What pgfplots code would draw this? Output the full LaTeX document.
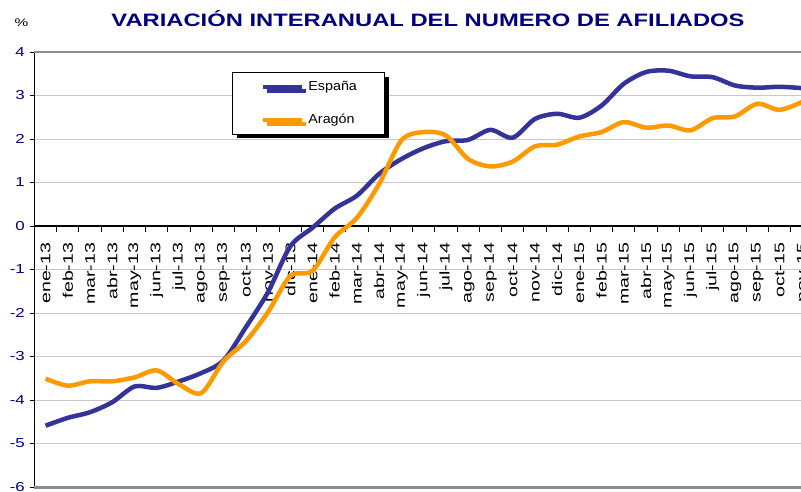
\documentclass[border=0pt]{standalone}
\usepackage{pgfplots}
\pgfplotsset{compat=1.18}
\usepackage{fontspec}
\setmainfont{Liberation Sans}
\newfontfamily\titlefont{Liberation Sans}[FakeStretch=1.32]
\newfontfamily\labfont{Liberation Sans}[FakeStretch=1.4]
\newfontfamily\ylabfont{Liberation Sans}[FakeStretch=1.3]
\newfontfamily\legfont{Liberation Sans}[FakeStretch=1.1]
\usetikzlibrary{shadows}
\definecolor{espana}{HTML}{333399}
\definecolor{aragon}{HTML}{FF9900}
\definecolor{navy}{HTML}{000080}
\definecolor{gridc}{HTML}{C8C8C8}
\definecolor{framec}{HTML}{8C8C8C}

\pgfplotstableread{
i esp ara
0 -4.59 -3.51
1 -4.41 -3.67
2 -4.28 -3.57
3 -4.05 -3.57
4 -3.69 -3.48
5 -3.72 -3.32
6 -3.57 -3.64
7 -3.38 -3.84
8 -3.09 -3.11
9 -2.33 -2.65
10 -1.52 -1.98
11 -0.47 -1.15
12 -0.04 -1.03
13 0.40 -0.26
14 0.70 0.19
15 1.20 0.97
16 1.54 1.97
17 1.79 2.16
18 1.95 2.08
19 1.98 1.54
20 2.21 1.37
21 2.03 1.48
22 2.46 1.83
23 2.58 1.87
24 2.49 2.06
25 2.77 2.16
26 3.27 2.39
27 3.54 2.26
28 3.57 2.31
29 3.44 2.20
30 3.42 2.48
31 3.23 2.52
32 3.18 2.81
33 3.20 2.67
34 3.17 2.85
}\datatable

\begin{document}
\begin{tikzpicture}
\begin{axis}[
  set layers,
  scale only axis,
  width=778.4pt, height=435pt,
  at={(0pt,0pt)}, anchor=south west,
  xmin=-0.5, xmax=34.5, ymin=-6, ymax=4,
  clip=false,
  axis x line=middle, axis y line=left,
  axis line style={-, line width=1.5pt, black},
  xtick={0,...,34},
  xticklabels={ene-13,feb-13,mar-13,abr-13,may-13,jun-13,jul-13,ago-13,sep-13,oct-13,nov-13,dic-13,ene-14,feb-14,mar-14,abr-14,may-14,jun-14,jul-14,ago-14,sep-14,oct-14,nov-14,dic-14,ene-15,feb-15,mar-15,abr-15,may-15,jun-15,jul-15,ago-15,sep-15,oct-15,nov-15},
  major x tick style={draw=none},
  minor xtick={-0.5,0.5,...,34.5},
  minor x tick style={black, line width=1pt},
  minor tick length=6pt,
  xtick align=outside,
  ytick={-6,...,4},
  ymajorgrids,
  grid style={gridc, line width=1pt},
  major tick length=4.5pt,
  ytick align=outside,
  y tick style={black, line width=1pt},
  xticklabel style={font=\fontsize{14}{14}\selectfont\labfont, rotate=90, anchor=east, inner sep=0pt},
  xticklabel shift=12pt,
  yticklabel style={font=\fontsize{13}{13}\selectfont\ylabfont, text=navy, /pgf/number format/assume math mode=true, inner sep=0pt},
  yticklabel shift=5pt,
  legend style={at={(axis description cs:0.2543,0.954)}, anchor=north west,
    draw=black, line width=1pt, fill=white,
    drop shadow={shadow xshift=4pt, shadow yshift=-4pt, opacity=1, fill=black},
    inner xsep=28pt, inner ysep=9pt, row sep=22pt, column sep=4pt,
    nodes={inner sep=0pt},
    font=\fontsize{13}{13}\selectfont\legfont},
  legend cell align=left,
  legend image code/.code={\draw[#1] (0pt,0pt) -- (39pt,0pt);},
]
\draw[framec, line width=1.5pt] (axis cs:-0.5,4) -- (axis cs:34.5,4);
\draw[framec, line width=3pt] (axis cs:-0.5,-6) -- (axis cs:34.5,-6);
\addplot[espana, line width=4.5pt, smooth, tension=0.5] table[x=i, y=esp] {\datatable};
\addlegendentry{España}
\addplot[aragon, line width=4.5pt, smooth, tension=0.5] table[x=i, y=ara] {\datatable};
\addlegendentry{Aragón}
\end{axis}
\node[font=\fontsize{18}{18}\selectfont\titlefont\bfseries, text=navy, anchor=base] at (393.5pt,460.3pt) {VARIACIÓN INTERANUAL DEL NUMERO DE AFILIADOS};
\node[font=\fontsize{11}{11}\selectfont\labfont, anchor=base] at (-13pt,460pt) {\%};
\pgfresetboundingbox
\useasboundingbox (-34.5pt,-4pt) rectangle (766.5pt,487pt);
\end{tikzpicture}
\end{document}
